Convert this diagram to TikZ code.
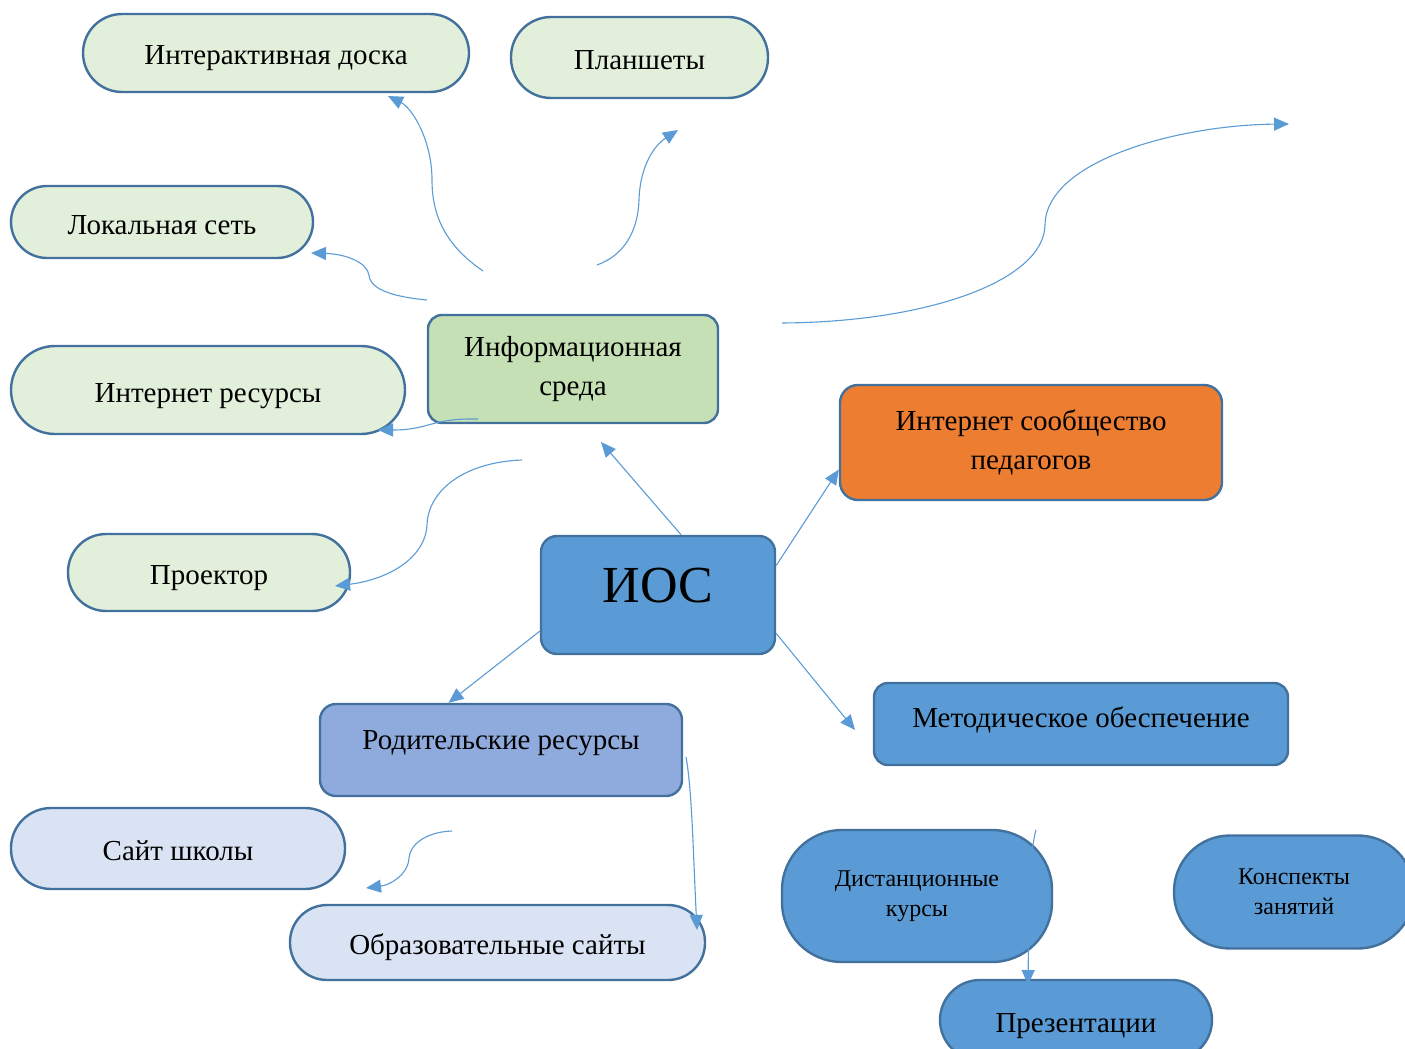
\documentclass[tikz,border=0pt]{standalone}
\usepackage{fontspec}
\setmainfont{Liberation Serif}
\usetikzlibrary{arrows.meta}

\definecolor{edgeblue}{HTML}{41719C}
\definecolor{paleGreen}{HTML}{E2EFDA}
\definecolor{midGreen}{HTML}{C5E0B4}
\definecolor{iosBlue}{HTML}{5B9BD5}
\definecolor{commOrange}{HTML}{ED7D31}
\definecolor{parentBlue}{HTML}{8FAADC}
\definecolor{paleBlue}{HTML}{DAE3F3}

\tikzset{
  box/.style={draw=edgeblue, line width=2.4pt, rounded corners=#1, align=center,
    inner sep=0pt, text=black, font=\fontsize{29}{39}\selectfont},
  box/.default=14pt,
  oneline/.style={text height=24pt, text depth=0pt},
  smalltext/.style={font=\fontsize{24}{30}\selectfont},
  link/.style={draw=iosBlue, line width=1.1pt, -{Triangle[length=15pt,width=13pt]}}
}

\begin{document}
\begin{tikzpicture}[x=1pt,y=-1pt]

\useasboundingbox (0,0) rectangle (1405,1049);

%centre
\node[box=16pt, fill=iosBlue, minimum width=234pt, minimum height=118pt, text height=36pt, text depth=21pt,
  font=\fontsize{52}{60}\selectfont] (ios) at (658,595) {ИОС};

%main branches
\node[box, fill=midGreen, minimum width=290pt, minimum height=108pt] (env) at (573,369) {Информационная\\среда};
\node[box=18pt, fill=commOrange, minimum width=382pt, minimum height=115pt] (comm) at (1031,442.5) {Интернет сообщество\\педагогов};
\node[box, fill=iosBlue, minimum width=414pt, minimum height=82pt, text height=19pt, text depth=13pt] (method) at (1081,724) {Методическое обеспечение};
\node[box=16pt, fill=parentBlue, minimum width=362pt, minimum height=92pt, text height=19pt, text depth=21pt] (parent) at (501,750) {Родительские ресурсы};

%informational environment
\node[box=39pt, oneline, fill=paleGreen, minimum width=386pt, minimum height=78pt] (board) at (276,53) {Интерактивная доска};
\node[box=40pt, oneline, fill=paleGreen, minimum width=257pt, minimum height=81pt] (tablets) at (639.5,57.5) {Планшеты};
\node[box=36pt, oneline, fill=paleGreen, minimum width=302pt, minimum height=72pt] (lan) at (162,222) {Локальная сеть};
\node[box=44pt, oneline, fill=paleGreen, minimum width=394pt, minimum height=88pt] (web) at (208,390) {Интернет ресурсы};
\node[box=38pt, oneline, fill=paleGreen, minimum width=282pt, minimum height=77pt] (proj) at (209,572.5) {Проектор};

%parent resources
\node[box=40pt, oneline, fill=paleBlue, minimum width=334pt, minimum height=81pt] (school) at (178,848.5) {Сайт школы};
\node[box=37pt, oneline, fill=paleBlue, minimum width=415pt, minimum height=75pt] (edu) at (497.5,942.5) {Образовательные сайты};

%methodical support
\node[box=60pt, smalltext, fill=iosBlue, minimum width=270pt, minimum height=132pt] (dist) at (917,896) {Дистанционные\\курсы};
\node[box=56pt, smalltext, fill=iosBlue, minimum width=240pt, minimum height=113pt] (notes) at (1294,892) {Конспекты\\занятий};
\node[box=40pt, oneline, fill=iosBlue, minimum width=272pt, minimum height=80pt] (pres) at (1076,1020) {Презентации};

%free ends of the connectors
\coordinate (envTip) at (601,442);
\coordinate (methodTip) at (855,730);
\coordinate (boardFrom) at (483,271);
\coordinate (boardTip) at (388,96);
\coordinate (tabFrom) at (597,265);
\coordinate (tabTip) at (678,130);
\coordinate (lanFrom) at (427,300);
\coordinate (lanTip) at (311,253);
\coordinate (webFrom) at (478,419);
\coordinate (webTip) at (378,430);
\coordinate (projFrom) at (522,460);
\coordinate (projTip) at (335,586);
\coordinate (farFrom) at (782,323);
\coordinate (farTip) at (1289,124);
\coordinate (schoolFrom) at (452,831);
\coordinate (schoolTip) at (366,888);
\coordinate (eduFrom) at (686,757);
\coordinate (eduTip) at (697,930);
\coordinate (presFrom) at (1036,830);
\coordinate (presTip) at (1028,985);

%straight arrows out of the centre
\draw[link] (ios.69) -- (envTip);
\draw[link] (ios.14) -- (comm.188);
\draw[link] (ios.197) -- (parent.138);
\draw[link] (ios.-18) -- (methodTip);

%curved arrows
\draw[link] (boardFrom) .. controls (445,245) and (432,215) .. (432,180) .. controls (432,140) and (412,108) .. (boardTip);
\draw[link] (tabFrom) .. controls (625,255) and (638,230) .. (639,200) .. controls (640,165) and (655,145) .. (tabTip);
\draw[link] (lanFrom) .. controls (395,297) and (370,290) .. (369,275) .. controls (367,262) and (345,254) .. (lanTip);
\draw[link] (webFrom) .. controls (430,418) and (430,430) .. (webTip);
\draw[link] (projFrom) .. controls (465,462) and (428,490) .. (427,525) .. controls (425,560) and (385,580) .. (projTip);
\draw[link] (farFrom) .. controls (930,322) and (1044,280) .. (1045,225) .. controls (1046,160) and (1180,125) .. (farTip);
\draw[link] (schoolFrom) .. controls (425,832) and (410,845) .. (409,858) .. controls (408,875) and (390,885) .. (schoolTip);
\draw[link] (eduFrom) .. controls (692,790) and (693,850) .. (eduTip);
\draw[link] (presFrom) .. controls (1030,850) and (1029,900) .. (presTip);

\end{tikzpicture}
\end{document}
